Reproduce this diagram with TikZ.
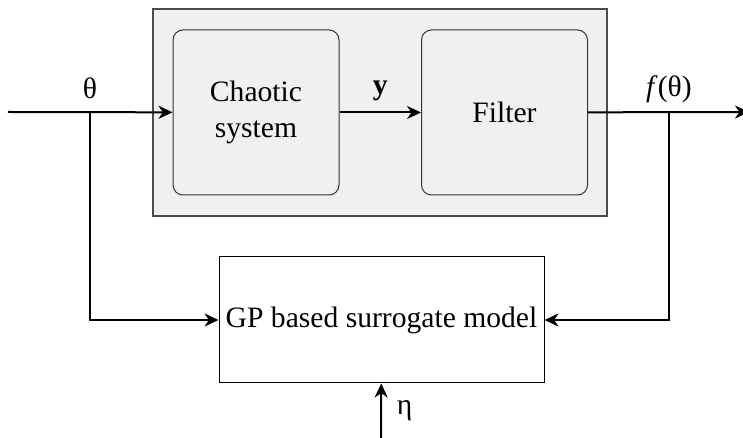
\documentclass[tikz,border=0pt]{standalone}
\usepackage{fontspec}
\setmainfont{Liberation Serif}
\newfontfamily\tnr{Liberation Serif}
\usetikzlibrary{arrows.meta}
\begin{document}
\begin{tikzpicture}[x=0.5pt, y=0.5pt,
          sig/.style ={line width = 1, -{Stealth[length=7, width=6.5, inset=2.2]}},
          block/.style ={draw=black!80, fill=black!6, line width = 0.5, rounded corners=5,
                         minimum width=83pt, minimum height=82.5pt, align=center},
          lbl/.style ={font=\tnr\fontsize{14.8}{18}\selectfont}
          ]
\useasboundingbox (0,0) rectangle (743,438);

% plant with the filter
\draw[draw=black!70, fill=black!6, line width = 0.6] (153,222) rectangle (607,429);
\node[block, lbl] (chaos) at (256,325.5) {Chaotic\\system};
\node[block, lbl] (filter) at (504.5,325.5) {Filter};

% surrogate
\node[draw, fill=white, line width = 0.5, minimum width=162.5pt, minimum height=63pt, lbl] (gp) at (381.5,118) {GP based surrogate model};

\coordinate (in) at (8,326);
\coordinate (tapin) at (90,326);
\coordinate (tapout) at (669,326);
\coordinate (out) at (749,326);
\coordinate (eta) at (381,0);

\draw[sig] (in) -- (chaos);
\node[lbl, above=3] (thlabel) at (tapin) {θ};
\draw[sig] (chaos) -- node[lbl, above=2] {\textbf{y}} (filter);
\draw[sig] (filter) -- (out);
\node[lbl, above=1] (flabel) at (tapout) {\textit{f}(θ)};
\draw[sig] (tapin) |- (gp);
\draw[sig] (tapout) |- (gp);
\draw[sig] (eta) -- (gp) node[lbl, pos=0.5, right=4] {η};
\end{tikzpicture}
\end{document}
